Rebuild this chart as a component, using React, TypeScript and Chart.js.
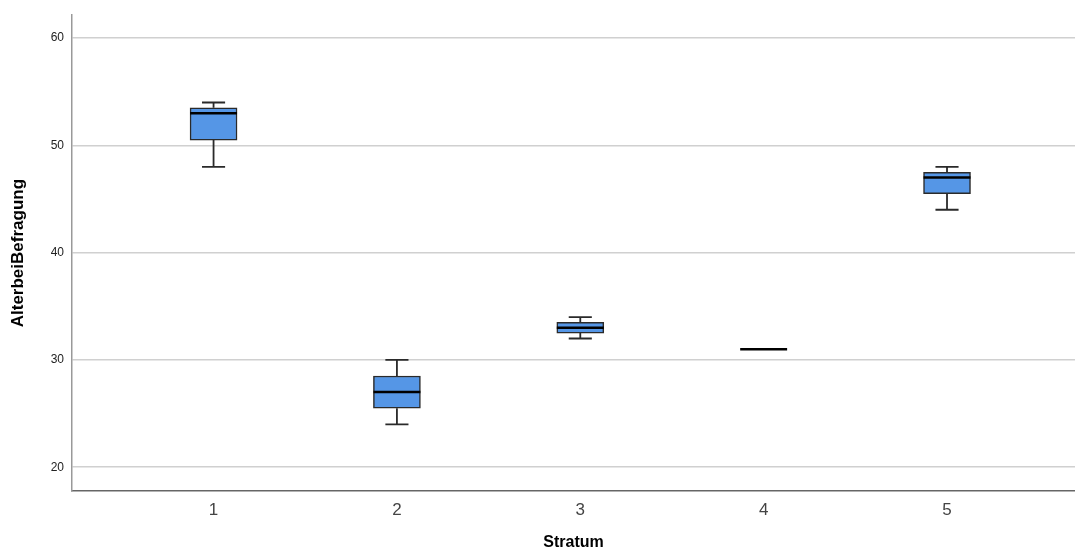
import React, { useEffect, useRef } from "react";
import { Chart, registerables } from "chart.js";

Chart.register(...registerables);

const categories = [1, 2, 3, 4, 5];
const whiskerLow = [48, 24, 32, 31, 44];
const q1 = [50.5, 25.5, 32.5, 31, 45.5];
const median = [53, 27, 33, 31, 47];
const q3 = [53.5, 28.5, 33.5, 31, 47.5];
const whiskerHigh = [54, 30, 34, 31, 48];
const yTicks = [20, 30, 40, 50, 60];

const FONT = "'Liberation Sans', Arial, sans-serif";
const BOX_HALF = 0.128;
const CAP_HALF = 0.063;

const boxPlugin = {
  id: "boxExtras",
  beforeDatasetsDraw(chart: any) {
    const { ctx, scales } = chart;
    const xs = scales.x;
    const ys = scales.y;
    ctx.save();
    ctx.strokeStyle = "#2a2a2a";
    ctx.lineWidth = 1.8;
    categories.forEach((c, i) => {
      const x = xs.getPixelForValue(c);
      const xl = xs.getPixelForValue(c - CAP_HALF);
      const xr = xs.getPixelForValue(c + CAP_HALF);
      const yLo = ys.getPixelForValue(whiskerLow[i]);
      const yHi = ys.getPixelForValue(whiskerHigh[i]);
      const yQ1 = ys.getPixelForValue(q1[i]);
      const yQ3 = ys.getPixelForValue(q3[i]);
      if (whiskerHigh[i] === whiskerLow[i]) return;
      ctx.beginPath();
      ctx.moveTo(x, yHi);
      ctx.lineTo(x, yQ3);
      ctx.moveTo(x, yQ1);
      ctx.lineTo(x, yLo);
      ctx.moveTo(xl, yHi);
      ctx.lineTo(xr, yHi);
      ctx.moveTo(xl, yLo);
      ctx.lineTo(xr, yLo);
      ctx.stroke();
    });
    ctx.restore();
  },
  afterDatasetsDraw(chart: any) {
    const { ctx, scales } = chart;
    const xs = scales.x;
    const ys = scales.y;
    ctx.save();
    ctx.strokeStyle = "#000000";
    ctx.lineWidth = 2.5;
    categories.forEach((c, i) => {
      const xl = xs.getPixelForValue(c - BOX_HALF);
      const xr = xs.getPixelForValue(c + BOX_HALF);
      const y = ys.getPixelForValue(median[i]);
      ctx.beginPath();
      ctx.moveTo(xl, y);
      ctx.lineTo(xr, y);
      ctx.stroke();
    });
    ctx.restore();
  },
};

export default function App() {
  const ref = useRef<HTMLCanvasElement | null>(null);
  useEffect(() => {
    document.body.style.margin = "0";
    if (!ref.current) return;
    const chart = new Chart(ref.current, {
      type: "bar",
      data: {
        datasets: [
          {
            data: categories.map((c, i) => ({ x: c, y: [q1[i], q3[i]] })) as any,
            backgroundColor: "#5596E6",
            borderColor: "#2a2a2a",
            borderWidth: 1.5,
            borderSkipped: false,
            barThickness: 47,
          },
        ],
      },
      options: {
        animation: false,
        responsive: false,
        layout: { padding: { top: 14, right: 0, left: 0, bottom: 0 } },
        plugins: { legend: { display: false }, tooltip: { enabled: false } },
        scales: {
          x: {
            type: "linear",
            offset: false,
            min: 0.228,
            max: 5.698,
            afterBuildTicks: (s: any) => {
              s.ticks = categories.map((v) => ({ value: v }));
            },
            afterFit: (s: any) => {
              s.height = 60;
            },
            grid: { display: false, drawTicks: false, offset: false },
            border: { display: true, color: "#666666", width: 1.5 },
            ticks: {
              color: "#444444",
              font: { family: FONT, size: 17 },
              padding: 9,
              autoSkip: false,
              maxRotation: 0,
            },
            title: {
              display: true,
              text: "Stratum",
              color: "#000000",
              font: { family: FONT, size: 16, weight: "bold", lineHeight: 1 },
              padding: { top: 0, bottom: 0 },
            },
          },
          y: {
            type: "linear",
            min: 17.78,
            max: 62.14,
            afterBuildTicks: (s: any) => {
              s.ticks = yTicks.map((v) => ({ value: v }));
            },
            afterFit: (s: any) => {
              s.width = 72;
            },
            grid: { color: "#d0d0d0", lineWidth: 1.5, drawTicks: false },
            border: { display: true, color: "#999999", width: 1.5 },
            ticks: {
              color: "#222222",
              font: { family: FONT, size: 12 },
              padding: 8,
            },
            title: {
              display: true,
              text: "AlterbeiBefragung",
              color: "#000000",
              font: { family: FONT, size: 17, weight: "bold", lineHeight: 1.2 },
              padding: { top: 8, bottom: 0 },
            },
          },
        },
      },
      plugins: [boxPlugin],
    });
    return () => chart.destroy();
  }, []);
  return (
    <div style={{ position: "fixed", left: 0, top: 0, width: 1075, height: 551, background: "#fff" }}>
      <canvas ref={ref} width={1075} height={551} />
    </div>
  );
}
